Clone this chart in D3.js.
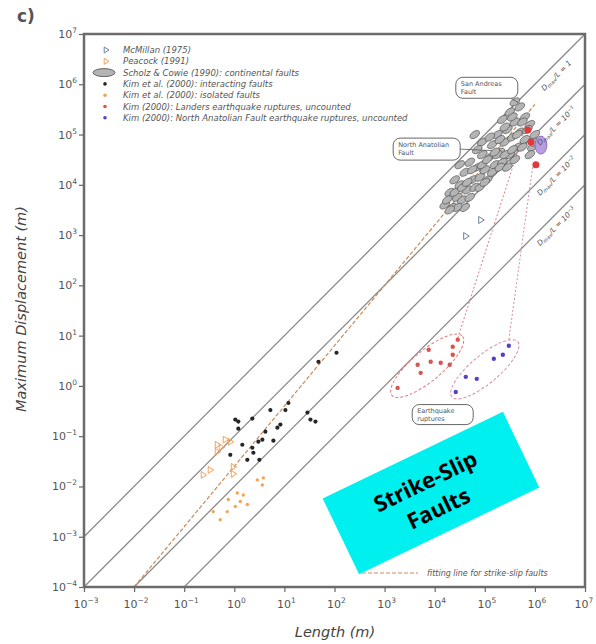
<!DOCTYPE html>
<html>
<head>
<meta charset="utf-8">
<script src="https://cdn.jsdelivr.net/npm/d3@7"></script>
<style>
body { margin: 0; background: #fff; }
</style>
</head>
<body>
<div id="chart"></div>
<script>
// all values are log10 of metres: [log L, log Dmax]
var xExp = [-3, -2, -1, 0, 1, 2, 3, 4, 5, 6, 7];
var yExp = [-4, -3, -2, -1, 0, 1, 2, 3, 4, 5, 6, 7];
var ratioExp = [0, -1, -2, -3];   // log10(Dmax/L) of the guide lines

var mcmillan = [[4.92, 3.30], [4.62, 2.98]];
var peacock = [[-0.34, -1.17], [-0.08, -1.11], [-0.34, -1.31], [-0.02, -1.61], [-0.02, -1.75],
  [-0.62, -1.77], [-0.48, -1.67], [-0.18, -1.07], [-0.26, -1.22]];
var scholz = [[4.2, 3.6], [4.3, 3.85], [4.35, 3.55], [4.4, 4.1], [4.45, 3.75], [4.5, 4.0], [4.55, 3.7],
  [4.6, 4.25], [4.65, 3.9], [4.7, 4.45], [4.75, 4.1], [4.8, 3.95], [4.85, 4.35], [4.9, 4.15],
  [4.95, 4.6], [5.0, 4.3], [5.05, 4.1], [5.1, 4.55], [5.15, 4.8], [5.2, 4.4], [5.25, 5.0],
  [5.3, 4.65], [5.35, 4.45], [5.35, 5.3], [5.4, 4.85], [5.45, 5.1], [5.5, 4.6], [5.5, 5.45],
  [5.55, 4.95], [5.6, 5.25], [5.65, 4.75], [5.7, 5.55], [5.7, 5.05], [5.8, 5.35], [5.8, 4.9],
  [5.9, 5.2], [5.95, 4.75], [6.0, 5.0], [4.8, 5.0], [4.95, 4.85], [5.1, 4.95], [5.25, 4.6],
  [4.85, 4.7], [4.5, 4.4], [4.25, 3.7], [4.4, 3.85], [4.55, 3.95], [4.6, 3.55], [4.7, 3.75],
  [4.75, 4.3], [4.9, 3.95], [4.95, 4.4], [5.05, 4.5], [5.15, 4.25], [5.2, 4.65], [5.3, 4.35],
  [5.3, 4.9], [5.4, 4.6], [5.45, 4.35], [5.55, 4.7], [5.6, 4.5], [5.65, 5.0], [5.75, 4.75],
  [5.75, 5.25], [5.85, 5.1], [5.9, 4.6], [6.0, 4.85], [5.55, 5.35], [5.4, 5.15], [4.65, 4.05],
  [4.45, 3.55], [4.3, 3.5], [5.0, 4.05], [5.6, 5.65]];
var kimInteracting = [[2.04, 0.66], [1.68, 0.48], [1.08, -0.34], [0.72, -0.48], [1.02, -0.48],
  [1.46, -0.53], [1.52, -0.67], [1.62, -0.71], [0.36, -0.65], [0.08, -0.71], [0.08, -0.85],
  [0.92, -0.77], [0.86, -0.83], [0.62, -0.91], [0.16, -1.17], [0.48, -1.11], [0.56, -1.07],
  [0.78, -1.09], [0.36, -1.23], [0.38, -1.33], [0.26, -1.47], [0.50, -1.47], [-0.08, -1.37],
  [0.02, -0.67]];
var kimIsolated = [[0.46, -1.87], [0.58, -1.83], [0.56, -1.97], [0.06, -2.13], [0.18, -2.17],
  [0.12, -2.30], [0.26, -2.36], [0.02, -2.40], [-0.14, -2.50], [-0.42, -2.50], [-0.28, -2.66],
  [-0.12, -2.26]];
var landers = [[3.88, 0.72], [4.36, 0.78], [4.46, 0.92], [3.66, 0.42], [3.92, 0.48], [4.12, 0.46],
  [4.30, 0.42], [3.72, 0.26], [3.26, -0.04], [4.36, 0.62]];
var anatolian = [[5.48, 0.80], [5.36, 0.62], [5.18, 0.54], [4.84, 0.14], [4.62, 0.18], [4.42, -0.12]];
var sanAndreasMarks = [[5.86, 5.09], [5.92, 4.85], [6.02, 4.40]];
var anatolianFault = [6.12, 4.79];
var fitLine = [[-2, -4], [6, 5.6]];

var legendNames = [
  "McMillan (1975)",
  "Peacock (1991)",
  "Scholz & Cowie (1990): continental faults",
  "Kim et al. (2000): interacting faults",
  "Kim et al. (2000): isolated faults",
  "Kim (2000): Landers earthquake ruptures, uncounted",
  "Kim (2000): North Anatolian Fault earthquake ruptures, uncounted"
];

var width = 596, height = 644;
var svg = d3.select("#chart").append("svg")
  .attr("width", width)
  .attr("height", height)
  .style("font-family", "'DejaVu Sans', sans-serif");

var x = d3.scaleLog().domain([1e-3, 1e7]).range([84, 585]);
var y = d3.scaleLog().domain([1e-4, 1e7]).range([587, 34]);
function px(d) { return x(Math.pow(10, d[0])); }
function py(d) { return y(Math.pow(10, d[1])); }

svg.append("clipPath").attr("id", "plot-clip")
  .append("rect")
  .attr("x", x.range()[0]).attr("y", y.range()[1])
  .attr("width", x.range()[1] - x.range()[0])
  .attr("height", y.range()[0] - y.range()[1]);

var plot = svg.append("g").attr("clip-path", "url(#plot-clip)");

// Dmax/L guide lines
plot.selectAll("line.ratio")
  .data(ratioExp)
  .enter().append("line")
  .attr("class", "ratio")
  .attr("x1", function(r) { return px([-3, r - 3]); })
  .attr("y1", function(r) { return py([-3, r - 3]); })
  .attr("x2", function(r) { return px([7, r + 7]); })
  .attr("y2", function(r) { return py([7, r + 7]); })
  .attr("stroke", "#8a8a8a")
  .attr("stroke-width", 1.3);

// fitting line
var line = d3.line().x(px).y(py);
plot.append("path")
  .attr("d", line(fitLine))
  .attr("fill", "none")
  .attr("stroke", "#c98a5a")
  .attr("stroke-width", 1.2)
  .attr("stroke-dasharray", "4,2");

// earthquake rupture envelopes and their links to the faults
var ruptureGroups = [
  {centre: [3.85, 0.40], rx: 46, ry: 15, from: [4.46, 0.95], to: [5.78, 5.05], color: "#e27a7a"},
  {centre: [5.00, 0.33], rx: 43, ry: 14, from: [5.48, 0.92], to: [5.96, 4.40], color: "#d98aa8"}
];
ruptureGroups.forEach(function(g) {
  plot.append("ellipse")
    .attr("cx", px(g.centre)).attr("cy", py(g.centre))
    .attr("rx", g.rx).attr("ry", g.ry)
    .attr("transform", "rotate(-40," + px(g.centre) + "," + py(g.centre) + ")")
    .attr("fill", "none")
    .attr("stroke", g.color)
    .attr("stroke-width", 1)
    .attr("stroke-dasharray", "3,2");
  plot.append("line")
    .attr("x1", px(g.from)).attr("y1", py(g.from))
    .attr("x2", px(g.to)).attr("y2", py(g.to))
    .attr("stroke", g.color)
    .attr("stroke-width", 1)
    .attr("stroke-dasharray", "2,2");
});

// Scholz & Cowie ellipses
plot.selectAll("ellipse.scholz")
  .data(scholz)
  .enter().append("ellipse")
  .attr("class", "scholz")
  .attr("cx", px).attr("cy", py)
  .attr("rx", 5.5).attr("ry", 3.2)
  .attr("transform", function(d) { return "rotate(-35," + px(d) + "," + py(d) + ")"; })
  .attr("fill", "#b4b4b4")
  .attr("stroke", "#4a4a4a")
  .attr("stroke-width", 0.6);

plot.append("ellipse")
  .attr("cx", px(anatolianFault)).attr("cy", py(anatolianFault))
  .attr("rx", 6).attr("ry", 9)
  .attr("fill", "#b79ce0")
  .attr("stroke", "#7a5cb0")
  .attr("stroke-width", 0.8);

plot.selectAll("circle.sa")
  .data(sanAndreasMarks)
  .enter().append("circle")
  .attr("class", "sa")
  .attr("cx", px).attr("cy", py)
  .attr("r", 3.5)
  .attr("fill", "#e03a3a");

function triangle(cx, cy, s) {
  return "M" + (cx - s * 0.6) + "," + (cy - s) + "L" + (cx + s) + "," + cy +
    "L" + (cx - s * 0.6) + "," + (cy + s) + "Z";
}

plot.selectAll("path.mcm")
  .data(mcmillan)
  .enter().append("path")
  .attr("d", function(d) { return triangle(px(d), py(d), 3.5); })
  .attr("fill", "none")
  .attr("stroke", "#6f7f9f")
  .attr("stroke-width", 1);

plot.selectAll("path.pea")
  .data(peacock)
  .enter().append("path")
  .attr("d", function(d) { return triangle(px(d), py(d), 3.4); })
  .attr("fill", "none")
  .attr("stroke", "#f2a25a")
  .attr("stroke-width", 1);

function dots(data, r, color) {
  plot.append("g").selectAll("circle")
    .data(data)
    .enter().append("circle")
    .attr("cx", px).attr("cy", py)
    .attr("r", r)
    .attr("fill", color);
}
dots(kimIsolated, 1.7, "#f3a450");
dots(kimInteracting, 2.1, "#262626");
dots(landers, 2.2, "#d9534f");
dots(anatolian, 2.2, "#5a3fc0");

// axes
var xAxis = svg.append("g")
  .attr("transform", "translate(0," + y.range()[0] + ")")
  .call(d3.axisBottom(x).tickValues(xExp.map(function(e) { return Math.pow(10, e); }))
    .tickFormat("").tickSize(5).tickSizeOuter(0));
var yAxis = svg.append("g")
  .attr("transform", "translate(" + x.range()[0] + ",0)")
  .call(d3.axisLeft(y).tickValues(yExp.map(function(e) { return Math.pow(10, e); }))
    .tickFormat("").tickSize(5).tickSizeOuter(0));
[xAxis, yAxis].forEach(function(a) {
  a.select(".domain").remove();
  a.selectAll(".tick line").attr("stroke", "#666").attr("stroke-width", 1.2);
});

// frame
svg.append("rect")
  .attr("x", x.range()[0]).attr("y", y.range()[1])
  .attr("width", x.range()[1] - x.range()[0])
  .attr("height", y.range()[0] - y.range()[1])
  .attr("fill", "none")
  .attr("stroke", "#6b6b6b")
  .attr("stroke-width", 2.5);

function powerLabel(sel, e) {
  sel.append("tspan").text("10");
  sel.append("tspan").attr("dy", -5).attr("font-size", 7.5).text(e < 0 ? "\u2212" + (-e) : e);
}

svg.selectAll("text.xtick")
  .data(xExp)
  .enter().append("text")
  .attr("class", "xtick")
  .attr("x", function(e) { return Math.min(x(Math.pow(10, e)) + 2, 584); })
  .attr("y", 608)
  .attr("text-anchor", "middle")
  .attr("font-size", 11)
  .attr("fill", "#555")
  .each(function(e) { powerLabel(d3.select(this), e); });

svg.selectAll("text.ytick")
  .data(yExp)
  .enter().append("text")
  .attr("class", "ytick")
  .attr("x", 77)
  .attr("y", function(e) { return y(Math.pow(10, e)) + 4; })
  .attr("text-anchor", "end")
  .attr("font-size", 11)
  .attr("fill", "#555")
  .each(function(e) { powerLabel(d3.select(this), e); });

svg.append("text")
  .attr("x", 335).attr("y", 637)
  .attr("text-anchor", "middle")
  .attr("font-size", 14.5)
  .attr("font-style", "italic")
  .attr("fill", "#444")
  .text("Length (m)");

svg.append("text")
  .attr("transform", "translate(26,309) rotate(-90)")
  .attr("text-anchor", "middle")
  .attr("font-size", 14.5)
  .attr("font-style", "italic")
  .attr("fill", "#444")
  .text("Maximum Displacement (m)");

svg.append("text")
  .attr("x", 17).attr("y", 22)
  .attr("font-size", 17)
  .attr("font-weight", "bold")
  .attr("fill", "#555")
  .text("c)");

// Dmax/L labels along the guide lines
ratioExp.forEach(function(r) {
  var p = [6.3, r + 6.3];
  var t = svg.append("text")
    .attr("transform", "translate(" + (px(p) + 6) + "," + (py(p) + 6) + ") rotate(-45)")
    .attr("text-anchor", "middle")
    .attr("dy", 3)
    .attr("font-size", 7.5)
    .attr("font-style", "italic")
    .attr("fill", "#555");
  t.append("tspan").text("D");
  t.append("tspan").attr("font-size", 5).attr("dy", 1.5).text("max");
  t.append("tspan").attr("dy", -1.5).text("/L = " + (r === 0 ? "1" : "10"));
  if (r !== 0) t.append("tspan").attr("font-size", 5).attr("dy", -3).text("\u2212" + (-r));
});

// call-out boxes
var callouts = [
  {lines: ["San Andreas", "Fault"], at: [5.04, 5.93], w: 62, h: 21, to: [5.7, 5.62]},
  {lines: ["North Anatolian", "Fault"], at: [3.84, 4.71], w: 67, h: 22, to: [5.15, 4.68]},
  {lines: ["Earthquake", "ruptures"], at: [4.16, -0.57], w: 61, h: 20, to: null}
];
callouts.forEach(function(c) {
  var cx = px(c.at), cy = py(c.at);
  if (c.to) {
    var tx = px(c.to), ty = py(c.to);
    var sx = c.lines[0] === "San Andreas" ? cx + 24 : cx + c.w / 2;
    var sy = c.lines[0] === "San Andreas" ? cy + c.h / 2 : cy;
    svg.append("line")
      .attr("x1", sx).attr("y1", sy).attr("x2", tx).attr("y2", ty)
      .attr("stroke", "#555").attr("stroke-width", 0.8);
  }
  svg.append("rect")
    .attr("x", cx - c.w / 2).attr("y", cy - c.h / 2)
    .attr("width", c.w).attr("height", c.h)
    .attr("rx", 7)
    .attr("fill", "#fff")
    .attr("stroke", "#555")
    .attr("stroke-width", 0.9);
  c.lines.forEach(function(s, i) {
    svg.append("text")
      .attr("x", cx - c.w / 2 + 5).attr("y", cy - 2 + i * 8)
      .attr("font-size", 6.5)
      .attr("fill", "#555")
      .text(s);
  });
});

// legend
var legend = svg.append("g").attr("transform", "translate(0,50)");
legendNames.forEach(function(name, i) {
  var ly = i * 11.3;
  var g = legend.append("g").attr("transform", "translate(0," + ly + ")");
  if (i === 0 || i === 1) {
    g.append("path")
      .attr("d", triangle(106, 0, 3))
      .attr("fill", "none")
      .attr("stroke", i === 0 ? "#6f7f9f" : "#f2a25a")
      .attr("stroke-width", 1);
  } else if (i === 2) {
    g.append("ellipse")
      .attr("cx", 104).attr("cy", 0).attr("rx", 11).attr("ry", 4)
      .attr("fill", "#b4b4b4").attr("stroke", "#4a4a4a").attr("stroke-width", 0.8);
  } else {
    var colors = ["#262626", "#f3a450", "#d9534f", "#5a3fc0"];
    g.append("circle")
      .attr("cx", 105).attr("cy", 0).attr("r", 1.8)
      .attr("fill", colors[i - 3]);
  }
  g.append("text")
    .attr("x", 123).attr("y", 3)
    .attr("font-size", 8.5)
    .attr("font-style", "italic")
    .attr("fill", "#555")
    .text(name);
});

// fitting line legend
svg.append("line")
  .attr("x1", 362).attr("x2", 418).attr("y1", 573).attr("y2", 573)
  .attr("stroke", "#c98a5a").attr("stroke-width", 1.2).attr("stroke-dasharray", "4,2");
svg.append("text")
  .attr("x", 427).attr("y", 576)
  .attr("font-size", 8)
  .attr("font-style", "italic")
  .attr("fill", "#555")
  .text("fitting line for strike-slip faults");

// cyan tag
var tag = svg.append("g").attr("transform", "translate(431,493) rotate(-25.7)");
tag.append("rect")
  .attr("x", -100).attr("y", -42).attr("width", 200).attr("height", 84)
  .attr("fill", "#00f0f0");
tag.selectAll("text")
  .data(["Strike-Slip", "Faults"])
  .enter().append("text")
  .attr("x", 0)
  .attr("y", function(d, i) { return i * 30 - 5; })
  .attr("text-anchor", "middle")
  .attr("font-family", "'Open Sans', sans-serif")
  .attr("font-weight", "bold")
  .attr("font-size", 22)
  .attr("fill", "#000")
  .text(function(d) { return d; });
</script>
</body>
</html>
